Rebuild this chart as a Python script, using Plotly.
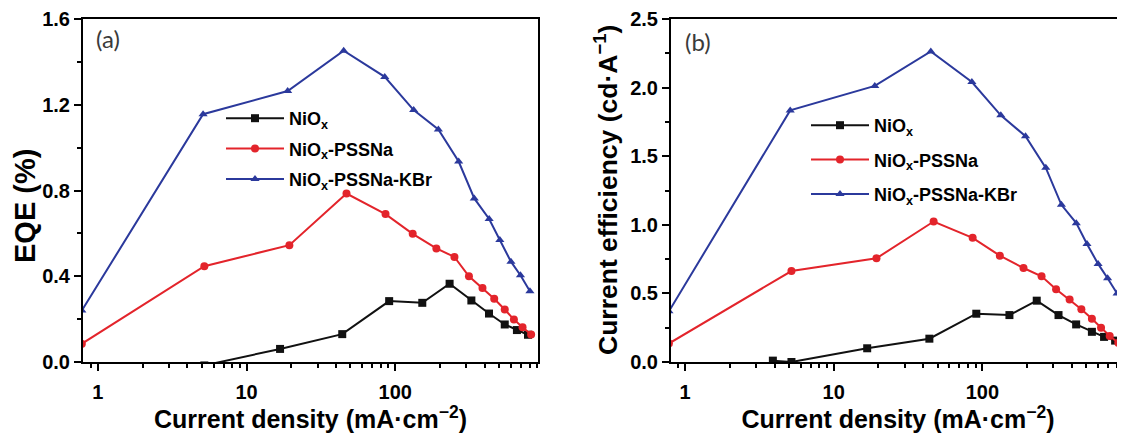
import plotly.graph_objects as go

# ---------------- data ----------------
cd_black = [3.9, 5.2, 16.8, 44, 91, 152, 232, 325, 427, 545, 658, 781]
eqe_black = [-0.03, -0.016, 0.061, 0.130, 0.284, 0.276, 0.365, 0.287, 0.226, 0.175, 0.149, 0.127]
ce_black = [0.01, 0.0, 0.10, 0.17, 0.352, 0.342, 0.447, 0.342, 0.274, 0.22, 0.183, 0.156]

cd_red = [0.78, 5.2, 19.4, 47, 86, 131, 189, 250, 313, 386, 463, 545, 628, 718, 820]
eqe_red = [0.085, 0.447, 0.545, 0.786, 0.69, 0.598, 0.53, 0.49, 0.40, 0.345, 0.295, 0.245, 0.198, 0.162, 0.128]
ce_red = [0.135, 0.663, 0.756, 1.024, 0.905, 0.775, 0.685, 0.625, 0.53, 0.455, 0.385, 0.315, 0.25, 0.19, 0.14]

cd_blue_a = [0.78, 5.1, 18.9, 45, 85, 133, 195, 267, 340, 428, 505, 600, 695, 805]
eqe_blue = [0.24, 1.156, 1.264, 1.452, 1.33, 1.175, 1.085, 0.935, 0.763, 0.667, 0.569, 0.468, 0.405, 0.33]
cd_blue_b = [0.78, 5.1, 18.9, 45, 85, 133, 195, 267, 340, 428, 505, 600, 695, 805, 920]
ce_blue = [0.37, 1.834, 2.012, 2.263, 2.041, 1.798, 1.646, 1.415, 1.146, 1.012, 0.86, 0.715, 0.61, 0.50, 0.37]

series_names = ["NiO<sub>x</sub>", "NiO<sub>x</sub>-PSSNa", "NiO<sub>x</sub>-PSSNa-KBr"]
x_major_ticks = [1, 10, 100]
x_major_text = ["1", "10", "100"]
x_minor_ticks = [0.9, 2, 3, 4, 5, 6, 7, 8, 9, 20, 30, 40, 50, 60, 70, 80, 90,
                 200, 300, 400, 500, 600, 700, 800, 900]
x_title = "Current density (mA·cm<sup>−2</sup>)"
y_title_a = "EQE (%)"
y_title_b = "Current efficiency (cd·A<sup>−1</sup>)"

# ---------------- styling ----------------
FONT = "Liberation Sans"
colors = ["#111111", "#e3242b", "#2b399c"]
symbols = ["square", "circle", "triangle-up"]

# the page body has an 8px margin: the figure is sized to the visible window
OFF = 8
W, H = 1125 - OFF, 433 - OFF
ml, mr, mt = 83 - OFF, 0, 19 - OFF
ph = 343
mb = H - mt - ph
pw = W - ml - mr

def px_x(px):   # screen pixel -> paper x
    return (px - 83) / pw

def px_y(py):   # screen pixel -> paper y
    return (362 - py) / ph

fig = go.Figure()

panel_a = [(cd_black, eqe_black), (cd_red, eqe_red), (cd_blue_a, eqe_blue)]
panel_b = [(cd_black, ce_black), (cd_red, ce_red), (cd_blue_b, ce_blue)]

for i, (xs, ys) in enumerate(panel_a):
    fig.add_trace(go.Scatter(
        x=xs, y=ys, mode="lines+markers", name=series_names[i],
        line=dict(color=colors[i], width=2),
        marker=dict(symbol=symbols[i], size=8, color=colors[i]),
        xaxis="x", yaxis="y", legend="legend", legendgroup="a%d" % i))

for i, (xs, ys) in enumerate(panel_b):
    fig.add_trace(go.Scatter(
        x=xs, y=ys, mode="lines+markers", name=series_names[i],
        line=dict(color=colors[i], width=2),
        marker=dict(symbol=symbols[i], size=8, color=colors[i]),
        xaxis="x2", yaxis="y2", legend="legend2", legendgroup="b%d" % i))

tickfont = dict(family=FONT, size=20, color="black", weight="bold")
titlefont = dict(family=FONT, size=25, color="black", weight="bold")

def xaxis(domain, rng, anchor):
    return dict(
        type="log", domain=domain, range=rng, anchor=anchor,
        showline=True, linewidth=2, linecolor="black", mirror=True,
        ticks="outside", ticklen=7, tickwidth=2, tickcolor="black",
        tickmode="array", tickvals=x_major_ticks, ticktext=x_major_text,
        minor=dict(ticks="outside", ticklen=4, tickwidth=1.5, tickcolor="black",
                   tickmode="array", tickvals=x_minor_ticks, showgrid=False),
        showgrid=False, zeroline=False, tickfont=tickfont, ticklabelstandoff=4,
        title=dict(text=x_title, font=titlefont, standoff=4),
    )

def yaxis(rng, dt, mdt, anchor, mirror):
    return dict(
        range=rng, anchor=anchor, domain=[0, 1],
        showline=True, linewidth=2, linecolor="black", mirror=mirror,
        ticks="outside", ticklen=7, tickwidth=2, tickcolor="black",
        dtick=dt, tick0=0, tickformat=".1f",
        minor=dict(ticks="outside", ticklen=4, tickwidth=1.5, tickcolor="black",
                   dtick=mdt, showgrid=False),
        showgrid=False, zeroline=False, tickfont=tickfont,
    )

dom1 = [0, 455 / pw]
dom2 = [px_x(671), 1.0]

legend_font = dict(family=FONT, size=18, color="black", weight="bold")

fig.update_layout(
    width=W, height=H,
    margin=dict(l=ml, r=mr, t=mt, b=mb, autoexpand=False),
    paper_bgcolor="white", plot_bgcolor="white",
    showlegend=True,
    xaxis=xaxis(dom1, [-0.1, 2.96], "y"),
    yaxis=yaxis([0, 1.6], 0.4, 0.2, "x", True),
    xaxis2=xaxis(dom2, [-0.094, 2.959], "y2"),
    yaxis2=yaxis([0, 2.5], 0.5, 0.25, "x2", False),
    legend=dict(x=px_x(221), y=px_y(100), xanchor="left", yanchor="top",
                bgcolor="rgba(0,0,0,0)", font=legend_font, itemwidth=58,
                tracegroupgap=4, traceorder="grouped"),
    legend2=dict(x=px_x(806), y=px_y(107), xanchor="left", yanchor="top",
                 bgcolor="rgba(0,0,0,0)", font=legend_font, itemwidth=58,
                 tracegroupgap=8, traceorder="grouped"),
    annotations=[
        dict(text=y_title_a, x=px_x(25), y=px_y(206), xref="paper", yref="paper",
             xanchor="center", yanchor="middle", textangle=-90, showarrow=False,
             font=dict(family=FONT, size=29, color="black", weight="bold")),
        dict(text=y_title_b, x=px_x(606), y=px_y(190), xref="paper", yref="paper",
             xanchor="center", yanchor="middle", textangle=-90, showarrow=False,
             font=dict(family=FONT, size=26.5, color="black", weight="bold")),
        dict(text="(a)", x=px_x(107.5), y=px_y(39), xref="paper", yref="paper",
             xanchor="center", yanchor="middle", showarrow=False,
             font=dict(family="Lato", size=24, color="#3a3a3a")),
        dict(text="(b)", x=px_x(697.5), y=px_y(41), xref="paper", yref="paper",
             xanchor="center", yanchor="middle", showarrow=False,
             font=dict(family="Lato", size=24, color="#3a3a3a")),
    ],
)

fig.write_html("out.html")
